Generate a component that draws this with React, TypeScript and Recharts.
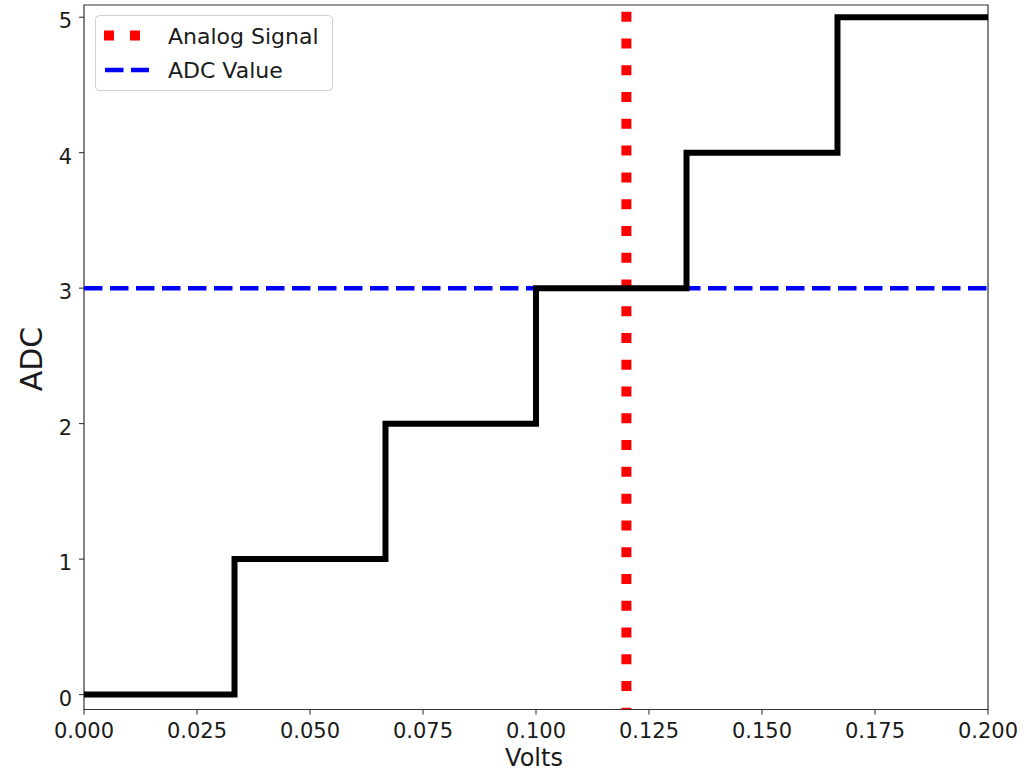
import React from 'react';
import { LineChart, Line, XAxis, YAxis, ReferenceArea, Legend } from 'recharts';

const stepVolts = [0, 0.0333, 0.0667, 0.1, 0.1333, 0.1667, 0.2];
const stepAdc = [0, 1, 2, 3, 4, 5, 5];
const analogVolts = 0.12;
const adcValue = 3;
const xTicks = [0, 0.025, 0.05, 0.075, 0.1, 0.125, 0.15, 0.175, 0.2];
const yTicks = [0, 1, 2, 3, 4, 5];
const xDomain = [0, 0.2];
const yDomain = [-0.11, 5.09];
const seriesNames = ['Analog Signal', 'ADC Value'];

const stepData = stepVolts.map((v, i) => ({ v, a: stepAdc[i] }));
const analogData = [
  { v: analogVolts, a: yDomain[1] },
  { v: analogVolts, a: yDomain[0] },
];
const adcData = [
  { v: xDomain[0], a: adcValue },
  { v: xDomain[1], a: adcValue },
];

const FONT = 'DejaVu Sans, sans-serif';
const TXT = '#1a1a1a';

const XTick = (props: any) => {
  const { x, y, payload } = props;
  return (
    <text x={x} y={y} dy={738 - y} textAnchor="middle" fontSize={21} fontFamily={FONT} fill={TXT}>
      {Number(payload.value).toFixed(3)}
    </text>
  );
};

const YTick = (props: any) => {
  const { x, y, payload } = props;
  return (
    <text x={x} y={y} dy={11} textAnchor="end" fontSize={21} fontFamily={FONT} fill={TXT}>
      {payload.value}
    </text>
  );
};

const LegendBox = () => (
  <svg width={238} height={76} style={{ display: 'block' }}>
    <rect x={0.5} y={0.5} width={237} height={75} rx={4} ry={4} fill="#fff" fillOpacity={0.8} stroke="#d0d0d0" strokeWidth={1} />
    <line x1={9} y1={20.5} x2={53} y2={20.5} stroke="#ff0000" strokeWidth={10} strokeDasharray="10 16" />
    <text x={73} y={28.5} fontSize={22} fontFamily={FONT} fill={TXT}>{seriesNames[0]}</text>
    <line x1={10} y1={55} x2={54} y2={55} stroke="#0000ff" strokeWidth={4.5} strokeDasharray="18.5 7.5" />
    <text x={73} y={62.5} fontSize={22} fontFamily={FONT} fill={TXT}>{seriesNames[1]}</text>
  </svg>
);

export default function App() {
  return (
    <div style={{ position: 'absolute', left: 0, top: 0, width: 1031, height: 771, background: '#fff' }}>
      <LineChart width={1031} height={771} margin={{ top: 5, right: 43, left: 0, bottom: 0 }}>
        <XAxis
          dataKey="v"
          type="number"
          domain={xDomain}
          ticks={xTicks}
          allowDataOverflow
          height={61.5}
          axisLine={false}
          tickLine={{ stroke: '#222', strokeWidth: 1 }}
          tickSize={5}
          tickMargin={2}
          tick={<XTick />}
          interval={0}
          label={(p: any) => {
            const vb = p.viewBox || {};
            return (
              <text x={vb.x + vb.width / 2 - 2} y={vb.y + 56.5} textAnchor="middle" fontSize={24} fontFamily={FONT} fill={TXT}>
                Volts
              </text>
            );
          }}
        />
        <YAxis
          dataKey="a"
          type="number"
          domain={yDomain}
          ticks={yTicks}
          allowDataOverflow
          width={84}
          axisLine={false}
          tickLine={{ stroke: '#222', strokeWidth: 1 }}
          tickSize={5}
          tickMargin={7}
          tick={<YTick />}
          interval={0}
          label={() => (
            <text x={42} y={359} transform="rotate(-90, 42, 359)" textAnchor="middle" fontSize={30} fontFamily={FONT} fill={TXT}>
              ADC
            </text>
          )}
        />
        <ReferenceArea
          x1={xDomain[0]}
          x2={xDomain[1]}
          y1={yDomain[0]}
          y2={yDomain[1]}
          fill="none"
          fillOpacity={0}
          stroke="#333"
          strokeWidth={1.2}
        />
        <Line
          data={analogData}
          dataKey="a"
          name={seriesNames[0]}
          stroke="#ff0000"
          strokeWidth={10}
          strokeDasharray="10 16.77"
          strokeDashoffset={20}
          strokeLinecap="butt"
          dot={false}
          activeDot={false}
          isAnimationActive={false}
          type="linear"
        />
        <Line
          data={adcData}
          dataKey="a"
          name={seriesNames[1]}
          stroke="#0000ff"
          strokeWidth={4.5}
          strokeDasharray="18.5 7.5"
          strokeLinecap="butt"
          dot={false}
          activeDot={false}
          isAnimationActive={false}
          type="linear"
        />
        <Line
          data={stepData}
          dataKey="a"
          name="ADC"
          stroke="#000"
          strokeWidth={6}
          strokeLinejoin="miter"
          strokeLinecap="butt"
          dot={false}
          activeDot={false}
          isAnimationActive={false}
          type="stepAfter"
          legendType="none"
        />
        <Legend
          layout="vertical"
          align="center"
          verticalAlign="middle"
          wrapperStyle={{ position: 'absolute', left: 95, top: 15, width: 238, height: 76, margin: 0, padding: 0 }}
          content={() => <LegendBox />}
        />
      </LineChart>
    </div>
  );
}
